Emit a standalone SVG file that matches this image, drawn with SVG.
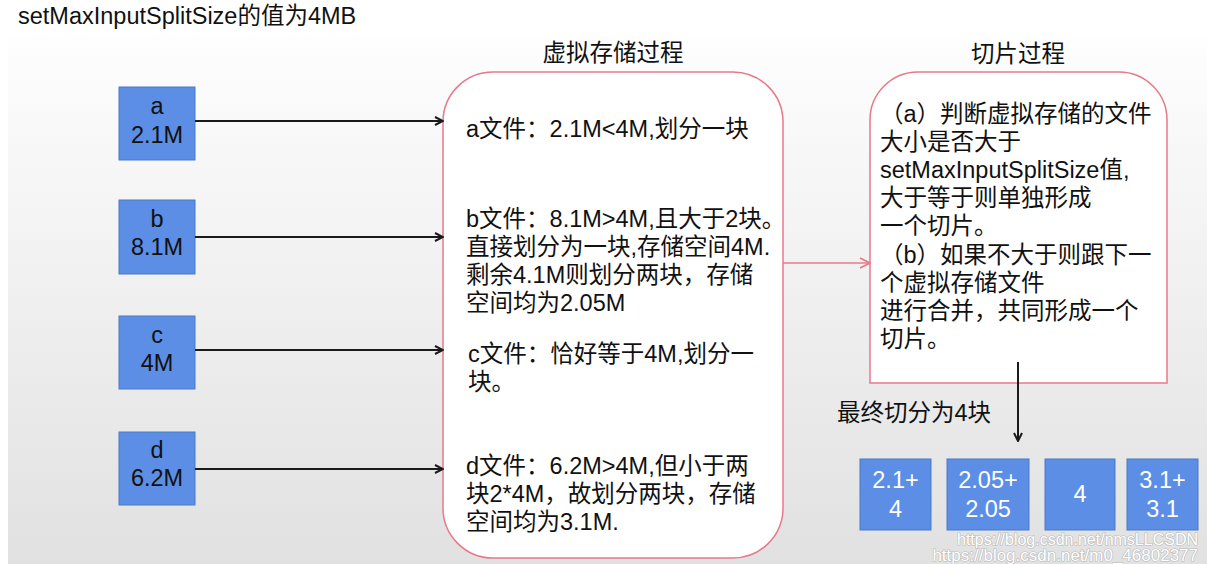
<svg xmlns="http://www.w3.org/2000/svg" width="1207" height="564" viewBox="0 0 1207 564">
<defs>
<linearGradient id="bg" x1="0" y1="0" x2="0" y2="1">
<stop offset="0" stop-color="#fefefe"/>
<stop offset="1" stop-color="#e1e1e1"/>
</linearGradient>
<marker id="ab" viewBox="0 0 10 10" refX="9" refY="5" markerWidth="10" markerHeight="10" markerUnits="userSpaceOnUse" orient="auto">
<path d="M1,1 L9,5 L1,9" fill="none" stroke="#1a1a1a" stroke-width="2"/>
</marker>
<marker id="ap" viewBox="0 0 12 12" refX="11" refY="6" markerWidth="12" markerHeight="12" markerUnits="userSpaceOnUse" orient="auto">
<path d="M1,1 L11,6 L1,11" fill="none" stroke="#e8788a" stroke-width="1.8"/>
</marker>
</defs>
<style>
text{font-family:"Liberation Sans","Noto Sans CJK SC",sans-serif;font-size:23.5px;fill:#111;}
.c{text-anchor:middle;}
.w{fill:#fff;}
.box{fill:#5b8ee4;stroke:#4a7bc8;stroke-width:1;}
.pk{fill:#fff;stroke:#e8788a;stroke-width:1.5;}
.ln{stroke:#1a1a1a;stroke-width:2;fill:none;}
.wm{font-size:16px;fill:#ffffff;stroke:#b8b8b8;stroke-width:1.2;paint-order:stroke;text-anchor:end;}
</style>
<rect x="0" y="0" width="1207" height="564" fill="#ffffff"/>
<rect x="8" y="33" width="1199" height="531" fill="url(#bg)"/>
<text x="18" y="24">setMaxInputSplitSize的值为4MB</text>

<g id="a">
<rect class="box" x="119" y="87" width="76" height="73"/>
<text class="c" x="157" y="114">a</text>
<text class="c" x="157" y="143">2.1M</text>
</g>
<g id="b">
<rect class="box" x="119" y="200" width="76" height="74"/>
<text class="c" x="157" y="227">b</text>
<text class="c" x="157" y="255">8.1M</text>
</g>
<g id="c">
<rect class="box" x="119" y="316" width="76" height="73"/>
<text class="c" x="157" y="343">c</text>
<text class="c" x="157" y="371">4M</text>
</g>
<g id="d">
<rect class="box" x="119" y="432" width="76" height="73"/>
<text class="c" x="157" y="458">d</text>
<text class="c" x="157" y="486">6.2M</text>
</g>

<g id="virtual">
<text class="c" x="613" y="61">虚拟存储过程</text>
<rect class="pk" x="443" y="72" width="340" height="486" rx="50" ry="50"/>
<text x="466" y="137">a文件：2.1M&lt;4M,划分一块</text>
<text x="466" y="227">b文件：8.1M&gt;4M,且大于2块。</text>
<text x="466" y="255">直接划分为一块,存储空间4M.</text>
<text x="466" y="283">剩余4.1M则划分两块，存储</text>
<text x="466" y="311">空间均为2.05M</text>
<text x="468" y="362">c文件：恰好等于4M,划分一</text>
<text x="468" y="390">块。</text>
<text x="466" y="474">d文件：6.2M&gt;4M,但小于两</text>
<text x="466" y="502">块2*4M，故划分两块，存储</text>
<text x="466" y="530">空间均为3.1M.</text>
</g>

<g id="split">
<text class="c" x="1018" y="62">切片过程</text>
<path class="pk" d="M870,383 L870,120 A48,48 0 0 1 918,72 L1119,72 A48,48 0 0 1 1167,120 L1167,383 Z"/>
<text x="880" y="122">（a）判断虚拟存储的文件</text>
<text x="880" y="150">大小是否大于</text>
<text x="880" y="178">setMaxInputSplitSize值,</text>
<text x="880" y="206">大于等于则单独形成</text>
<text x="880" y="234">一个切片。</text>
<text x="880" y="263">（b）如果不大于则跟下一</text>
<text x="880" y="291">个虚拟存储文件</text>
<text x="880" y="319">进行合并，共同形成一个</text>
<text x="880" y="347">切片。</text>
</g>

<g id="result-label">
<text x="837" y="421">最终切分为4块</text>
</g>

<g id="r1">
<rect class="box" x="860" y="459" width="71" height="71"/>
<text class="c w" x="895.5" y="488">2.1+</text>
<text class="c w" x="895.5" y="517">4</text>
</g>
<g id="r2">
<rect class="box" x="947" y="459" width="82" height="71"/>
<text class="c w" x="988" y="488">2.05+</text>
<text class="c w" x="988" y="517">2.05</text>
</g>
<g id="r3">
<rect class="box" x="1045" y="459" width="70" height="71"/>
<text class="c w" x="1080" y="502">4</text>
</g>
<g id="r4">
<rect class="box" x="1127" y="459" width="71" height="71"/>
<text class="c w" x="1162.5" y="488">3.1+</text>
<text class="c w" x="1162.5" y="517">3.1</text>
</g>

<g id="connectors">
<line class="ln" x1="195" y1="121" x2="443" y2="121" marker-end="url(#ab)"/>
<line class="ln" x1="195" y1="237" x2="443" y2="237" marker-end="url(#ab)"/>
<line class="ln" x1="195" y1="350" x2="443" y2="350" marker-end="url(#ab)"/>
<line class="ln" x1="195" y1="469" x2="443" y2="469" marker-end="url(#ab)"/>
<line x1="783" y1="263" x2="870" y2="263" stroke="#e8788a" stroke-width="1.5" marker-end="url(#ap)"/>
<line class="ln" x1="1018" y1="362" x2="1018" y2="441" marker-end="url(#ab)"/>
</g>

<g id="watermark">
<text class="wm" x="1198" y="545">https://blog.csdn.net/nmsLLCSDN</text>
<text class="wm" x="1198" y="561" style="font-size:17px">https://blog.csdn.net/m0_46802377</text>
</g>
</svg>
